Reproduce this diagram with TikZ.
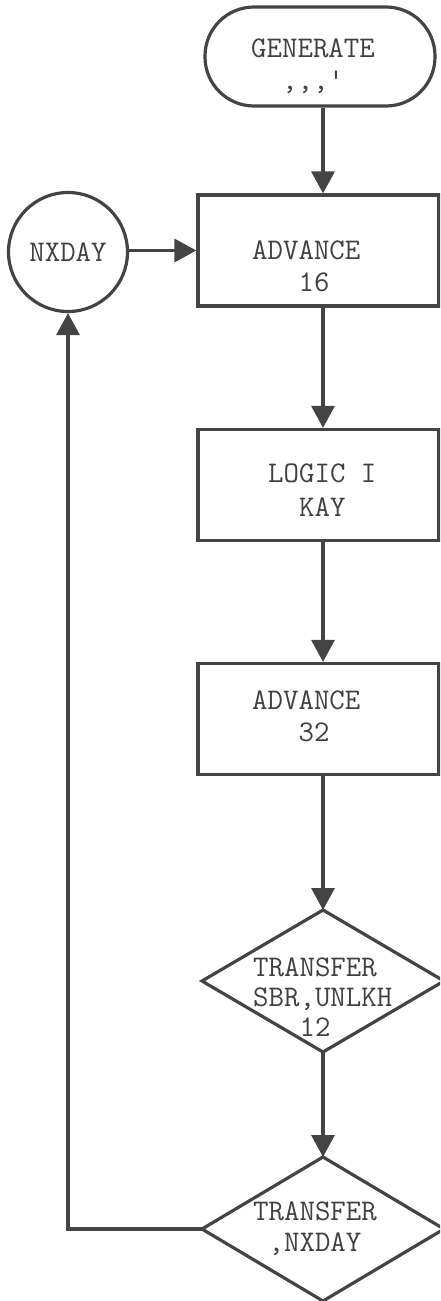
\documentclass[tikz,border=0pt]{standalone}
\usepackage{fontspec}
\usetikzlibrary{arrows.meta}
\definecolor{ink}{HTML}{444444}
\definecolor{txt}{HTML}{404040}
\begin{document}
\begin{tikzpicture}[x=1pt,y=-1pt,
  lbl/.style={font=\ttfamily\fontsize{30}{32}\selectfont, text=txt, align=left, inner sep=0pt, anchor=west},
  shp/.style={draw=ink, line width=3.2pt, inner sep=0pt},
  box/.style={shp, rectangle, minimum width=241pt, minimum height=111pt},
  flow/.style={draw=ink, line width=3.2pt, -{Triangle[width=23pt,length=22pt]}}]
\useasboundingbox (0,0) rectangle (440,1301);
\clip (0,0) rectangle (440,1301);
\coordinate (col) at (323,0);
% shapes
\node[shp, rectangle, rounded corners=49pt, minimum width=230pt, minimum height=99pt] (gen) at (320,56.5) {};
\node[box] (adv1) at (318.5,250.5) {};
\node[box] (logic) at (318.5,485) {};
\node[box] (adv2) at (318.5,719) {};
\node[shp, circle, minimum size=119pt, font=\ttfamily\fontsize{30}{32}\selectfont, text=txt] (nx) at (68,252) {NXDAY};
\coordinate (d1n) at (323,910);
\coordinate (d1w) at (202,981);
\coordinate (d1s) at (323,1052);
\coordinate (d1e) at (444,981);
\coordinate (d2n) at (323,1157);
\coordinate (d2w) at (202,1229);
\coordinate (d2s) at (323,1301);
\coordinate (d2e) at (444,1229);
\draw[ink, line width=3.2pt, line join=miter] (d1n) -- (d1e) -- (d1s) -- (d1w) -- cycle;
\draw[ink, line width=3.2pt, line join=miter] (d2n) -- (d2e) -- (d2s) -- (d2w) -- cycle;
% texts
\node[lbl] (gent) at (251,66) {GENERATE\\\phantom{00},{},{},'};
\node[lbl] (adv1t) at (252,266) {ADVANCE\\\phantom{000}16};
\node[lbl, font=\ttfamily\fontsize{30}{34}\selectfont] (logict) at (268,490) {LOGIC I\\\phantom{00}KAY};
\node[lbl] (adv2t) at (252,716) {ADVANCE\\\phantom{000}32};
\node[lbl, font=\ttfamily\fontsize{30}{30}\selectfont] (d1t) at (253,997) {TRANSFER\\SBR,UNLKH\\\phantom{000}12};
\node[lbl, font=\ttfamily\fontsize{30}{31}\selectfont] (d2t) at (253,1229) {TRANSFER\\\phantom{0},NXDAY};
% connectors
\draw[flow] (gen.south -| col) -- (adv1.north -| col);
\draw[flow] (nx.east |- adv1.west) -- (adv1.west);
\draw[flow] (adv1.south -| col) -- (logic.north -| col);
\draw[flow] (logic.south -| col) -- (adv2.north -| col);
\draw[flow] (adv2.south -| col) -- (d1n);
\draw[flow] (d1s) -- (d2n);
\draw[flow] (d2w) -| (nx.south);
\end{tikzpicture}
\end{document}
